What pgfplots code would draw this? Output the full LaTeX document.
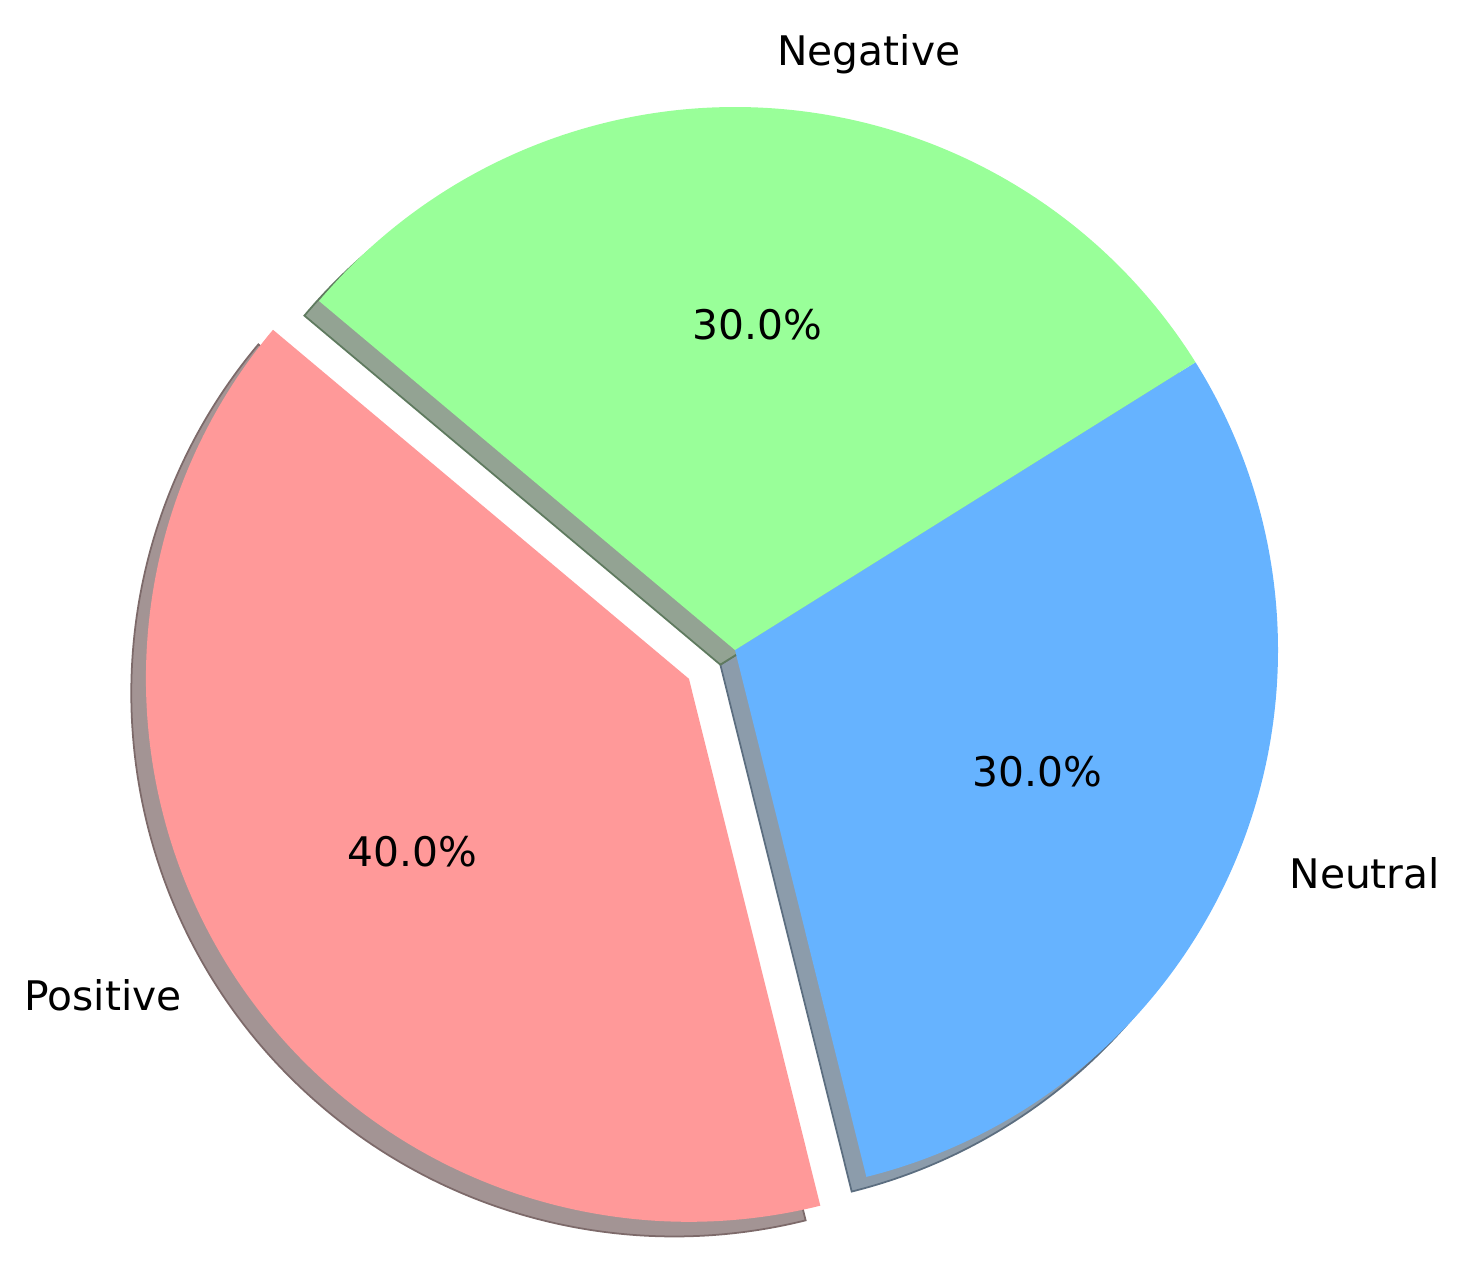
\documentclass[border=0pt]{standalone}
\usepackage{pgfplots}
\pgfplotsset{compat=1.18}
\usepackage{pgfplotstable}
\usepackage{fontspec}
\setmainfont{DejaVu Sans}
\definecolor{cPos}{HTML}{FF9999}
\definecolor{cNeu}{HTML}{66B3FF}
\definecolor{cNeg}{HTML}{99FF99}
\definecolor{sPos}{HTML}{A39494}
\definecolor{sNeu}{HTML}{8C9CAB}
\definecolor{sNeg}{HTML}{93A393}
\definecolor{ePos}{HTML}{7D6A6A}
\definecolor{eNeu}{HTML}{5C6E80}
\definecolor{eNeg}{HTML}{5F7A5F}

\pgfplotstableread{
label value explode
Positive 40 0.1
Neutral 30 0
Negative 30 0
}\piedata

\tikzset{pielbl/.style={font=\fontsize{11.6}{13.9}\selectfont, inner sep=0pt}}

\begin{document}
\begin{tikzpicture}
\pgfplotstablegetelem{0}{value}\of\piedata \pgfmathsetmacro\vA{\pgfplotsretval}
\pgfplotstablegetelem{1}{value}\of\piedata \pgfmathsetmacro\vB{\pgfplotsretval}
\pgfplotstablegetelem{2}{value}\of\piedata \pgfmathsetmacro\vC{\pgfplotsretval}
\pgfplotstablegetelem{0}{explode}\of\piedata \pgfmathsetmacro\eA{\pgfplotsretval}
\pgfplotstablegetelem{1}{explode}\of\piedata \pgfmathsetmacro\eB{\pgfplotsretval}
\pgfplotstablegetelem{2}{explode}\of\piedata \pgfmathsetmacro\eC{\pgfplotsretval}
\pgfmathsetmacro\tot{\vA+\vB+\vC}
\pgfmathsetmacro\aA{140}
\pgfmathsetmacro\aB{\aA+360*\vA/\tot}
\pgfmathsetmacro\aC{\aB+360*\vB/\tot}
\pgfmathsetmacro\aD{\aC+360*\vC/\tot}
\pgfmathsetmacro\mA{(\aA+\aB)/2}
\pgfmathsetmacro\mB{(\aB+\aC)/2}
\pgfmathsetmacro\mC{(\aC+\aD)/2}
% wedge centres (explode)
\pgfmathsetmacro\cxA{\eA*cos(\mA)}\pgfmathsetmacro\cyA{\eA*sin(\mA)}
\pgfmathsetmacro\cxB{\eB*cos(\mB)}\pgfmathsetmacro\cyB{\eB*sin(\mB)}
\pgfmathsetmacro\cxC{\eC*cos(\mC)}\pgfmathsetmacro\cyC{\eC*sin(\mC)}
% start points of arcs
\pgfmathsetmacro\sxA{\cxA+cos(\aA)}\pgfmathsetmacro\syA{\cyA+sin(\aA)}
\pgfmathsetmacro\sxB{\cxB+cos(\aB)}\pgfmathsetmacro\syB{\cyB+sin(\aB)}
\pgfmathsetmacro\sxC{\cxC+cos(\aC)}\pgfmathsetmacro\syC{\cyC+sin(\aC)}
% shadow offset
\def\so{0.027}
\pgfmathsetmacro\hcxA{\cxA-\so}\pgfmathsetmacro\hcyA{\cyA-\so}
\pgfmathsetmacro\hcxB{\cxB-\so}\pgfmathsetmacro\hcyB{\cyB-\so}
\pgfmathsetmacro\hcxC{\cxC-\so}\pgfmathsetmacro\hcyC{\cyC-\so}
\pgfmathsetmacro\hsxA{\sxA-\so}\pgfmathsetmacro\hsyA{\syA-\so}
\pgfmathsetmacro\hsxB{\sxB-\so}\pgfmathsetmacro\hsyB{\syB-\so}
\pgfmathsetmacro\hsxC{\sxC-\so}\pgfmathsetmacro\hsyC{\syC-\so}
% label positions
\pgfmathsetmacro\lxA{\cxA+1.1*cos(\mA)}\pgfmathsetmacro\lyA{\cyA+1.1*sin(\mA)}
\pgfmathsetmacro\lxB{\cxB+1.1*cos(\mB)}\pgfmathsetmacro\lyB{\cyB+1.1*sin(\mB)}
\pgfmathsetmacro\lxC{\cxC+1.1*cos(\mC)}\pgfmathsetmacro\lyC{\cyC+1.1*sin(\mC)}
\pgfmathsetmacro\pxA{\cxA+0.6*cos(\mA)}\pgfmathsetmacro\pyA{\cyA+0.6*sin(\mA)}
\pgfmathsetmacro\pxB{\cxB+0.6*cos(\mB)}\pgfmathsetmacro\pyB{\cyB+0.6*sin(\mB)}
\pgfmathsetmacro\pxC{\cxC+0.6*cos(\mC)}\pgfmathsetmacro\pyC{\cyC+0.6*sin(\mC)}
\def\R{5.43cm}
\begin{axis}[x=5.43cm, y=5.43cm,
  xmin=-1.3536, xmax=1.3462, ymin=-1.1713, ymax=1.1971,
  hide axis, clip=false]
\coordinate (bl) at (rel axis cs:0,0);
\coordinate (tr) at (rel axis cs:1,1);
% shadows
\filldraw[fill=sPos, draw=ePos, line width=0.5pt] (axis cs:\hcxA,\hcyA) -- (axis cs:\hsxA,\hsyA) arc[start angle=\aA, end angle=\aB, radius=\R] -- cycle;
\filldraw[fill=sNeu, draw=eNeu, line width=0.5pt] (axis cs:\hcxB,\hcyB) -- (axis cs:\hsxB,\hsyB) arc[start angle=\aB, end angle=\aC, radius=\R] -- cycle;
\filldraw[fill=sNeg, draw=eNeg, line width=0.5pt] (axis cs:\hcxC,\hcyC) -- (axis cs:\hsxC,\hsyC) arc[start angle=\aC, end angle=\aD, radius=\R] -- cycle;
% wedges
\fill[cPos] (axis cs:\cxA,\cyA) -- (axis cs:\sxA,\syA) arc[start angle=\aA, end angle=\aB, radius=\R] -- cycle;
\fill[cNeu] (axis cs:\cxB,\cyB) -- (axis cs:\sxB,\syB) arc[start angle=\aB, end angle=\aC, radius=\R] -- cycle;
\fill[cNeg] (axis cs:\cxC,\cyC) -- (axis cs:\sxC,\syC) arc[start angle=\aC, end angle=\aD, radius=\R] -- cycle;
% labels
\node[pielbl, anchor=east] at (axis cs:\lxA,\lyA) {Positive};
\node[pielbl, anchor=west] at (axis cs:\lxB,\lyB) {Neutral};
\node[pielbl, anchor=west] at (axis cs:\lxC,\lyC) {Negative};
\node[pielbl] at (axis cs:\pxA,\pyA) {40.0\%};
\node[pielbl] at (axis cs:\pxB,\pyB) {30.0\%};
\node[pielbl] at (axis cs:\pxC,\pyC) {30.0\%};
\end{axis}
\pgfresetboundingbox
\useasboundingbox (bl) rectangle (tr);
\end{tikzpicture}
\end{document}
